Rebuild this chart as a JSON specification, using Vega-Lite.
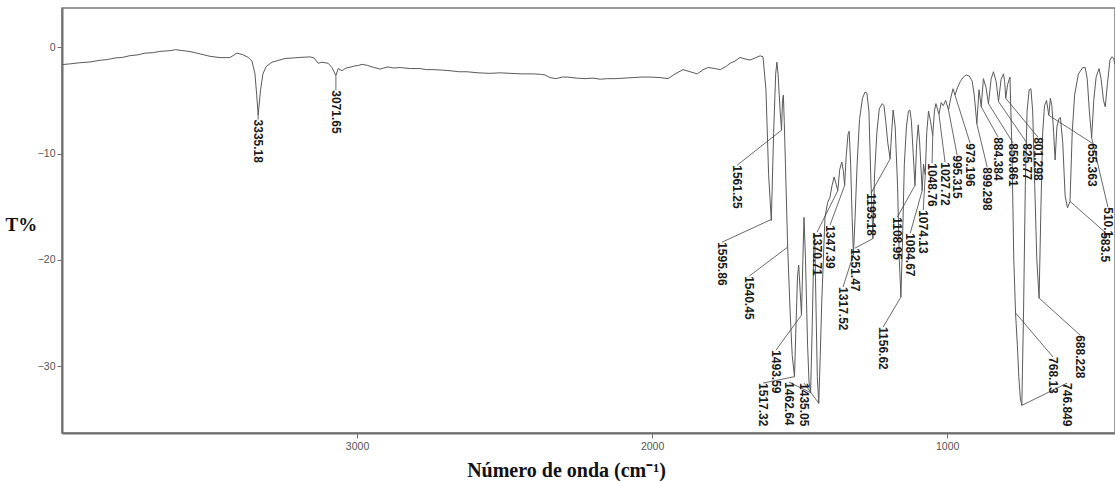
{
  "$schema": "https://vega.github.io/schema/vega-lite/v6.json",
  "autosize": {"type": "none"},
  "padding": {"left": 62, "top": 8, "right": 0, "bottom": 48},
  "width": 1053,
  "height": 425,
  "background": "white",
  "config": {"view": {"stroke": "#7a7a7a", "strokeWidth": 1.5}},
  "datasets": {
    "spectrum": [
      {"wn": 4000, "t": -1.63}, {"wn": 3970, "t": -1.55}, {"wn": 3939, "t": -1.45}, {"wn": 3905, "t": -1.38}, {"wn": 3871, "t": -1.22}, {"wn": 3845, "t": -1.15}, {"wn": 3820, "t": -1.0},
      {"wn": 3795, "t": -0.95}, {"wn": 3769, "t": -0.78}, {"wn": 3745, "t": -0.72}, {"wn": 3719, "t": -0.55}, {"wn": 3690, "t": -0.5}, {"wn": 3668, "t": -0.38}, {"wn": 3634, "t": -0.32},
      {"wn": 3615, "t": -0.22}, {"wn": 3600, "t": -0.28}, {"wn": 3566, "t": -0.4}, {"wn": 3532, "t": -0.62}, {"wn": 3498, "t": -0.85},
      {"wn": 3464, "t": -0.97}, {"wn": 3431, "t": -0.97}, {"wn": 3407, "t": -0.55}, {"wn": 3386, "t": -0.7},
      {"wn": 3369, "t": -0.95}, {"wn": 3356, "t": -1.3}, {"wn": 3346, "t": -2.5}, {"wn": 3340, "t": -4.5},
      {"wn": 3335.18, "t": -6.4}, {"wn": 3327, "t": -4.0}, {"wn": 3319, "t": -2.5}, {"wn": 3308, "t": -1.8},
      {"wn": 3288, "t": -1.4}, {"wn": 3244, "t": -1.05}, {"wn": 3215, "t": -1.0}, {"wn": 3193, "t": -0.95}, {"wn": 3159, "t": -0.9},
      {"wn": 3146, "t": -1.0}, {"wn": 3132, "t": -1.5}, {"wn": 3119, "t": -1.4}, {"wn": 3098, "t": -1.5},
      {"wn": 3085, "t": -1.9}, {"wn": 3071.65, "t": -2.65}, {"wn": 3064, "t": -2.0}, {"wn": 3051, "t": -2.2},
      {"wn": 3037, "t": -1.95}, {"wn": 3020, "t": -1.85}, {"wn": 3007, "t": -1.75}, {"wn": 2995, "t": -1.7}, {"wn": 2983, "t": -1.6}, {"wn": 2965, "t": -1.7}, {"wn": 2949, "t": -1.85},
      {"wn": 2922, "t": -2.05}, {"wn": 2910, "t": -1.95}, {"wn": 2895, "t": -1.85}, {"wn": 2875, "t": -1.95}, {"wn": 2854, "t": -1.9}, {"wn": 2820, "t": -2.0}, {"wn": 2786, "t": -2.0},
      {"wn": 2765, "t": -2.1}, {"wn": 2742, "t": -2.1}, {"wn": 2710, "t": -2.15}, {"wn": 2685, "t": -2.2}, {"wn": 2655, "t": -2.3}, {"wn": 2627, "t": -2.3}, {"wn": 2590, "t": -2.4}, {"wn": 2549, "t": -2.45},
      {"wn": 2515, "t": -2.4}, {"wn": 2481, "t": -2.45}, {"wn": 2440, "t": -2.5}, {"wn": 2403, "t": -2.5}, {"wn": 2375, "t": -2.55}, {"wn": 2363, "t": -2.6}, {"wn": 2346, "t": -2.85},
      {"wn": 2325, "t": -2.95}, {"wn": 2305, "t": -2.8}, {"wn": 2288, "t": -2.8}, {"wn": 2255, "t": -2.9}, {"wn": 2227, "t": -2.95}, {"wn": 2200, "t": -2.9}, {"wn": 2176, "t": -3.0},
      {"wn": 2150, "t": -2.95}, {"wn": 2125, "t": -2.95}, {"wn": 2095, "t": -2.9}, {"wn": 2064, "t": -2.85}, {"wn": 2035, "t": -2.8}, {"wn": 2007, "t": -2.8}, {"wn": 1973, "t": -2.85},
      {"wn": 1946, "t": -2.95}, {"wn": 1922, "t": -2.5}, {"wn": 1895, "t": -2.1}, {"wn": 1871, "t": -2.3},
      {"wn": 1847, "t": -2.5}, {"wn": 1827, "t": -2.1}, {"wn": 1810, "t": -1.9}, {"wn": 1786, "t": -2.0},
      {"wn": 1769, "t": -2.1}, {"wn": 1749, "t": -1.8}, {"wn": 1736, "t": -1.5}, {"wn": 1719, "t": -1.3},
      {"wn": 1702, "t": -0.95}, {"wn": 1685, "t": -1.1}, {"wn": 1668, "t": -1.2}, {"wn": 1651, "t": -1.0},
      {"wn": 1634, "t": -0.8}, {"wn": 1624, "t": -0.9}, {"wn": 1614, "t": -4.0}, {"wn": 1605, "t": -12.0},
      {"wn": 1595.86, "t": -16.3}, {"wn": 1588, "t": -8.0}, {"wn": 1581, "t": -2.5}, {"wn": 1577, "t": -1.4},
      {"wn": 1573, "t": -2.5}, {"wn": 1566, "t": -6.0}, {"wn": 1561.25, "t": -7.8}, {"wn": 1558, "t": -5.0},
      {"wn": 1555, "t": -4.5}, {"wn": 1552, "t": -7.0}, {"wn": 1548, "t": -11.0}, {"wn": 1540.45, "t": -18.8},
      {"wn": 1532, "t": -25.0}, {"wn": 1525, "t": -29.0}, {"wn": 1517.32, "t": -31.0}, {"wn": 1512, "t": -26.0},
      {"wn": 1507, "t": -21.5}, {"wn": 1503, "t": -20.5}, {"wn": 1498, "t": -23.0}, {"wn": 1493.59, "t": -25.2},
      {"wn": 1489, "t": -20.0}, {"wn": 1485, "t": -16.0}, {"wn": 1480, "t": -20.0}, {"wn": 1473, "t": -28.0},
      {"wn": 1468, "t": -31.5}, {"wn": 1462.64, "t": -32.5}, {"wn": 1457, "t": -26.0}, {"wn": 1452, "t": -19.0},
      {"wn": 1449, "t": -17.5}, {"wn": 1444, "t": -25.0}, {"wn": 1440, "t": -31.0}, {"wn": 1435.05, "t": -33.5},
      {"wn": 1430, "t": -29.0}, {"wn": 1425, "t": -24.0}, {"wn": 1414, "t": -16.0}, {"wn": 1405, "t": -14.6},
      {"wn": 1397, "t": -14.1}, {"wn": 1390, "t": -13.0}, {"wn": 1383, "t": -12.2}, {"wn": 1376, "t": -12.9},
      {"wn": 1370.71, "t": -13.5}, {"wn": 1364, "t": -11.5}, {"wn": 1357, "t": -10.8}, {"wn": 1352, "t": -11.6},
      {"wn": 1347.39, "t": -13.0}, {"wn": 1342, "t": -10.2}, {"wn": 1336, "t": -8.2}, {"wn": 1332, "t": -7.9},
      {"wn": 1327, "t": -11.0}, {"wn": 1322, "t": -16.0}, {"wn": 1317.52, "t": -19.5}, {"wn": 1312, "t": -16.0},
      {"wn": 1305, "t": -11.0}, {"wn": 1297, "t": -6.8}, {"wn": 1287, "t": -4.8}, {"wn": 1278, "t": -4.2},
      {"wn": 1272, "t": -4.3}, {"wn": 1265, "t": -6.0}, {"wn": 1259, "t": -12.0}, {"wn": 1251.47, "t": -18.0},
      {"wn": 1246, "t": -12.0}, {"wn": 1238, "t": -8.0}, {"wn": 1230, "t": -5.8}, {"wn": 1220, "t": -5.3},
      {"wn": 1214, "t": -5.5}, {"wn": 1208, "t": -7.0}, {"wn": 1201, "t": -9.0}, {"wn": 1193.18, "t": -10.5},
      {"wn": 1188, "t": -8.0}, {"wn": 1183, "t": -5.9}, {"wn": 1176, "t": -7.5}, {"wn": 1168, "t": -13.0},
      {"wn": 1162, "t": -20.0}, {"wn": 1156.62, "t": -23.5}, {"wn": 1151, "t": -18.0}, {"wn": 1145, "t": -11.0},
      {"wn": 1138, "t": -7.5}, {"wn": 1131, "t": -6.0}, {"wn": 1126, "t": -5.9}, {"wn": 1121, "t": -7.0},
      {"wn": 1115, "t": -10.0}, {"wn": 1108.95, "t": -13.0}, {"wn": 1103, "t": -9.0}, {"wn": 1098, "t": -7.3},
      {"wn": 1093, "t": -9.0}, {"wn": 1084.67, "t": -13.5}, {"wn": 1080, "t": -11.0}, {"wn": 1074.13, "t": -12.0},
      {"wn": 1069, "t": -8.0}, {"wn": 1063, "t": -6.0}, {"wn": 1056, "t": -7.0}, {"wn": 1048.76, "t": -8.3},
      {"wn": 1043, "t": -6.0}, {"wn": 1038, "t": -5.3}, {"wn": 1033, "t": -5.8}, {"wn": 1027.72, "t": -6.3},
      {"wn": 1020, "t": -5.2}, {"wn": 1013, "t": -5.5}, {"wn": 1005, "t": -5.0}, {"wn": 995.315, "t": -5.9},
      {"wn": 988, "t": -4.8}, {"wn": 980, "t": -3.9}, {"wn": 973.196, "t": -4.5}, {"wn": 965, "t": -3.8},
      {"wn": 955, "t": -3.2}, {"wn": 945, "t": -2.8}, {"wn": 935, "t": -2.6}, {"wn": 925, "t": -2.7},
      {"wn": 915, "t": -3.2}, {"wn": 908, "t": -4.5}, {"wn": 899.298, "t": -7.2}, {"wn": 892, "t": -4.0},
      {"wn": 884.384, "t": -5.6}, {"wn": 877, "t": -2.95}, {"wn": 868, "t": -3.8}, {"wn": 859.861, "t": -5.3},
      {"wn": 851, "t": -3.0}, {"wn": 843, "t": -2.3}, {"wn": 834, "t": -3.2}, {"wn": 825.77, "t": -5.1},
      {"wn": 817, "t": -3.0}, {"wn": 809, "t": -2.5}, {"wn": 805, "t": -3.2}, {"wn": 801.298, "t": -4.8},
      {"wn": 795, "t": -3.5}, {"wn": 787, "t": -2.8}, {"wn": 780, "t": -10.0}, {"wn": 774, "t": -20.0},
      {"wn": 768.13, "t": -25.0}, {"wn": 762, "t": -28.0}, {"wn": 757, "t": -31.0}, {"wn": 752, "t": -33.0},
      {"wn": 746.849, "t": -33.7}, {"wn": 741, "t": -25.0}, {"wn": 735, "t": -13.0}, {"wn": 729, "t": -6.0},
      {"wn": 722, "t": -4.0}, {"wn": 716, "t": -3.9}, {"wn": 710, "t": -6.0}, {"wn": 703, "t": -13.0},
      {"wn": 696, "t": -20.0}, {"wn": 688.228, "t": -23.6}, {"wn": 682, "t": -15.0}, {"wn": 676, "t": -8.0},
      {"wn": 670, "t": -5.5}, {"wn": 663, "t": -5.0}, {"wn": 655.363, "t": -6.4}, {"wn": 650, "t": -4.8},
      {"wn": 645, "t": -5.5}, {"wn": 639, "t": -8.0}, {"wn": 634, "t": -10.6}, {"wn": 628, "t": -7.5},
      {"wn": 621, "t": -6.7}, {"wn": 616, "t": -6.6}, {"wn": 608, "t": -9.0}, {"wn": 600, "t": -14.0},
      {"wn": 592, "t": -15.1}, {"wn": 583.5, "t": -14.5}, {"wn": 576, "t": -8.0}, {"wn": 568, "t": -4.5},
      {"wn": 555, "t": -2.5}, {"wn": 540, "t": -1.9}, {"wn": 532, "t": -1.9}, {"wn": 525, "t": -3.0},
      {"wn": 518, "t": -6.0}, {"wn": 510.1, "t": -8.5}, {"wn": 503, "t": -5.0}, {"wn": 495, "t": -2.8},
      {"wn": 485, "t": -2.0}, {"wn": 478, "t": -3.0}, {"wn": 470, "t": -5.0}, {"wn": 464, "t": -5.6},
      {"wn": 457, "t": -3.5}, {"wn": 448, "t": -1.2}, {"wn": 442, "t": -0.9}, {"wn": 436, "t": -1.0},
      {"wn": 431, "t": -1.6}
    ],
    "peaks": [
      {"label": "3335.18", "wn": 3335.18, "t": -6.4, "lwn": 3335.18, "lt": -6.8},
      {"label": "3071.65", "wn": 3071.65, "t": -2.65, "lwn": 3071.65, "lt": -4.04},
      {"label": "1561.25", "wn": 1561.25, "t": -7.8, "lwn": 1712, "lt": -11.1},
      {"label": "1595.86", "wn": 1595.86, "t": -16.2, "lwn": 1763, "lt": -18.34},
      {"label": "1540.45", "wn": 1540.45, "t": -18.8, "lwn": 1671, "lt": -21.54},
      {"label": "1493.59", "wn": 1493.59, "t": -25.2, "lwn": 1580, "lt": -28.5},
      {"label": "1517.32", "wn": 1517.32, "t": -31.0, "lwn": 1624, "lt": -31.6},
      {"label": "1462.64", "wn": 1462.64, "t": -32.5, "lwn": 1536, "lt": -31.51},
      {"label": "1435.05", "wn": 1435.05, "t": -33.5, "lwn": 1485, "lt": -31.6},
      {"label": "1370.71", "wn": 1370.71, "t": -13.5, "lwn": 1441, "lt": -17.4},
      {"label": "1347.39", "wn": 1347.39, "t": -13.0, "lwn": 1397, "lt": -16.74},
      {"label": "1317.52", "wn": 1317.52, "t": -19.5, "lwn": 1353, "lt": -22.57},
      {"label": "1251.47", "wn": 1251.47, "t": -18.0, "lwn": 1312, "lt": -18.9},
      {"label": "1193.18", "wn": 1193.18, "t": -10.5, "lwn": 1258, "lt": -13.73},
      {"label": "1156.62", "wn": 1156.62, "t": -23.5, "lwn": 1217, "lt": -26.33},
      {"label": "1108.95", "wn": 1108.95, "t": -13.0, "lwn": 1169, "lt": -15.99},
      {"label": "1084.67", "wn": 1084.67, "t": -13.5, "lwn": 1125, "lt": -17.49},
      {"label": "1074.13", "wn": 1074.13, "t": -12.0, "lwn": 1081, "lt": -15.33},
      {"label": "1048.76", "wn": 1048.76, "t": -8.3, "lwn": 1051, "lt": -10.91},
      {"label": "1027.72", "wn": 1027.72, "t": -6.3, "lwn": 1007, "lt": -10.82},
      {"label": "995.315", "wn": 995.315, "t": -5.9, "lwn": 966, "lt": -10.16},
      {"label": "973.196", "wn": 973.196, "t": -4.5, "lwn": 922, "lt": -9.03},
      {"label": "899.298", "wn": 899.298, "t": -7.2, "lwn": 864, "lt": -11.29},
      {"label": "884.384", "wn": 884.384, "t": -5.6, "lwn": 827, "lt": -8.46},
      {"label": "859.861", "wn": 859.861, "t": -5.3, "lwn": 776, "lt": -9.03},
      {"label": "825.77", "wn": 825.77, "t": -5.1, "lwn": 729, "lt": -9.03},
      {"label": "801.298", "wn": 801.298, "t": -4.8, "lwn": 692, "lt": -8.46},
      {"label": "768.13", "wn": 768.13, "t": -25.0, "lwn": 641, "lt": -29.15},
      {"label": "746.849", "wn": 746.849, "t": -33.7, "lwn": 593, "lt": -31.6},
      {"label": "688.228", "wn": 688.228, "t": -23.6, "lwn": 549, "lt": -27.09},
      {"label": "655.363", "wn": 655.363, "t": -6.4, "lwn": 508, "lt": -9.03},
      {"label": "583.5", "wn": 583.5, "t": -14.5, "lwn": 465, "lt": -17.4},
      {"label": "510.1", "wn": 510.1, "t": -8.5, "lwn": 455, "lt": -15.05}
    ]
  },
  "encoding": {},
  "layer": [
    {
      "data": {"name": "spectrum"},
      "mark": {"type": "line", "color": "#5a5a5a", "strokeWidth": 1, "clip": true},
      "encoding": {
        "x": {
          "field": "wn", "type": "quantitative",
          "scale": {"domain": [4000, 431], "nice": false, "zero": false},
          "axis": {
            "values": [1000, 2000, 3000], "format": "d", "grid": false,
            "domainColor": "#6e6e6e", "domainWidth": 2, "tickColor": "#6e6e6e", "tickSize": 5, "tickWidth": 1,
            "labelFont": "Liberation Sans", "labelFontSize": 10.5, "labelColor": "#555555", "labelPadding": 3,
            "title": "Número de onda (cm⁻¹)", "titleFont": "Liberation Serif", "titleFontWeight": "bold",
            "titleFontSize": 20, "titleColor": "#111111", "titleX": 504, "titleY": 37,
            "titleAlign": "center", "titleBaseline": "middle"
          }
        },
        "y": {
          "field": "t", "type": "quantitative",
          "scale": {"domain": [-36.3, 3.7], "nice": false, "zero": false},
          "axis": {
            "values": [-30, -20, -10, 0], "format": "d", "grid": false,
            "domainColor": "#6e6e6e", "domainWidth": 2, "tickColor": "#6e6e6e", "tickSize": 5, "tickWidth": 1,
            "labelFont": "Liberation Sans", "labelFontSize": 10.5, "labelColor": "#555555", "labelPadding": 2,
            "title": "T%", "titleFont": "Liberation Serif", "titleFontWeight": "bold", "titleFontSize": 19,
            "titleColor": "#111111", "titleAngle": 0, "titleX": -57, "titleY": 216,
            "titleAlign": "left", "titleBaseline": "middle"
          }
        }
      }
    },
    {
      "data": {"name": "peaks"},
      "mark": {"type": "rule", "color": "#444444", "strokeWidth": 0.8, "clip": true},
      "encoding": {
        "x": {"field": "wn", "type": "quantitative"},
        "y": {"field": "t", "type": "quantitative"},
        "x2": {"field": "lwn"},
        "y2": {"field": "lt"}
      }
    },
    {
      "data": {"name": "peaks"},
      "mark": {"type": "text", "angle": 90, "align": "left", "baseline": "middle", "font": "Liberation Sans", "fontSize": 12, "fontWeight": "bold", "color": "#1a1a1a"},
      "encoding": {
        "x": {"field": "lwn", "type": "quantitative"},
        "y": {"field": "lt", "type": "quantitative"},
        "text": {"field": "label"}
      }
    }
  ]
}
